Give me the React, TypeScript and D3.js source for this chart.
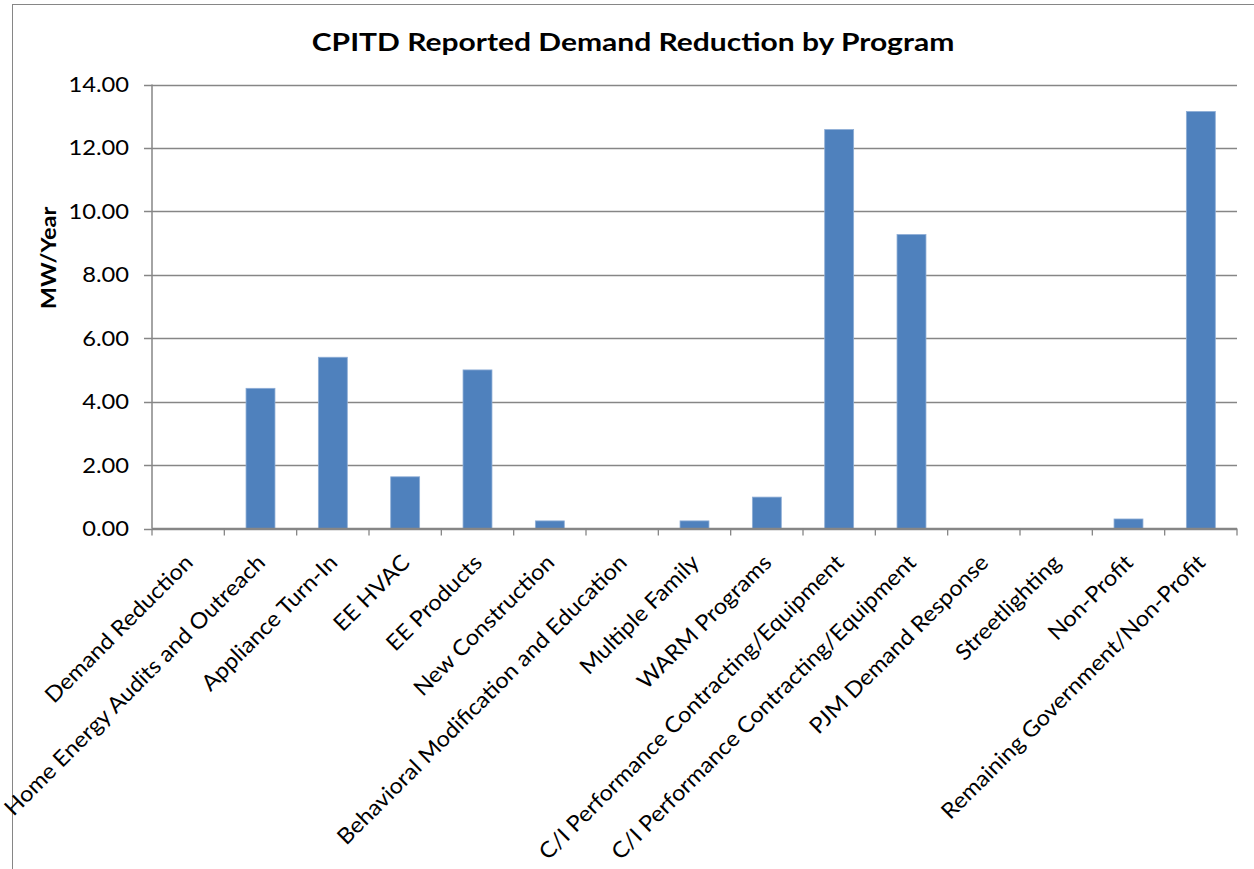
import React, { useEffect, useRef } from "react";
import * as d3 from "d3";

const categories: string[] = [
  "Demand Reduction",
  "Home Energy Audits and Outreach",
  "Appliance Turn-In",
  "EE HVAC",
  "EE Products",
  "New Construction",
  "Behavioral Modification and Education",
  "Multiple Family",
  "WARM Programs",
  "C/I Performance Contracting/Equipment",
  "C/I Performance Contracting/Equipment ",
  "PJM Demand Response",
  "Streetlighting",
  "Non-Profit",
  "Remaining Government/Non-Profit",
];
const values: number[] = [0, 4.42, 5.4, 1.63, 5.0, 0.24, 0, 0.24, 0.99, 12.58, 9.27, 0, 0, 0.3, 13.15];
const yTicks: number[] = [0, 2, 4, 6, 8, 10, 12, 14];
const title = "CPITD Reported Demand Reduction by Program";
const yLabel = "MW/Year";

const W = 1254;
const H = 869;
const FONT = "Lato, 'Open Sans', sans-serif";

export default function App() {
  const ref = useRef<SVGSVGElement>(null);
  useEffect(() => {
    document.body.style.margin = "0";
    const svg = d3.select(ref.current);
    svg.selectAll("*").remove();
    const left = 152, right = 1237, top = 84.5, bottom = 528.5;

    const x = d3.scaleBand<number>().domain(d3.range(categories.length)).range([left, right]).paddingInner(0.6).paddingOuter(0.3);
    const xOuter = d3.scaleLinear().domain([0, categories.length]).range([left, right]);
    const y = d3.scaleLinear().domain([0, 14]).range([bottom, top]);

    svg.append("rect").attr("x", 12.5).attr("y", 4.5).attr("width", 1400).attr("height", 1000)
      .attr("fill", "white").attr("stroke", "#868686").attr("stroke-width", 1);

    svg.append("text").attr("transform", "translate(633,51) scale(1.2,1)").attr("text-anchor", "middle")
      .attr("font-family", FONT).attr("font-weight", "bold").attr("font-size", 25).attr("fill", "#000")
      .text(title);

    // gridlines
    const g = svg.append("g");
    yTicks.forEach((t) => {
      g.append("line").attr("x1", left - 8).attr("x2", right).attr("y1", Math.round(y(t)) + 0.5).attr("y2", Math.round(y(t)) + 0.5)
        .attr("stroke", "#868686").attr("stroke-width", 1.3);
      g.append("text").attr("transform", `translate(129,${y(t) + 7.5}) scale(1.13,1)`).attr("text-anchor", "end")
        .attr("font-family", FONT).attr("font-size", 21).attr("fill", "#000").text(d3.format(".2f")(t));
    });

    // bars
    svg.append("g").selectAll("rect").data(values).join("rect")
      .attr("x", (_, i) => x(i)!)
      .attr("width", x.bandwidth())
      .attr("y", (d) => y(d))
      .attr("height", (d) => bottom - y(d))
      .attr("fill", "#4F81BD")
      .attr("stroke", (d) => (d > 0 ? "#8EADD6" : "none"))
      .attr("stroke-width", 0.8);

    // axes
    svg.append("line").attr("x1", left).attr("x2", left).attr("y1", top).attr("y2", bottom)
      .attr("stroke", "#868686").attr("stroke-width", 1.5);
    svg.append("line").attr("x1", left).attr("x2", right).attr("y1", bottom).attr("y2", bottom)
      .attr("stroke", "#868686").attr("stroke-width", 1.5);
    d3.range(categories.length + 1).forEach((i) => {
      svg.append("line").attr("x1", xOuter(i)).attr("x2", xOuter(i)).attr("y1", bottom).attr("y2", bottom + 7)
        .attr("stroke", "#868686").attr("stroke-width", 1.3);
    });

    // category labels
    categories.forEach((c, i) => {
      const cx = xOuter(i + 0.5) + 6;
      const cy = 564;
      svg.append("text").attr("transform", `translate(${cx},${cy}) rotate(-45) scale(1.07,1)`)
        .attr("text-anchor", "end").attr("font-family", FONT).attr("font-size", 22).attr("fill", "#000")
        .text(c.trim());
    });

    svg.append("text").attr("transform", `translate(56,258) rotate(-90) scale(1.12,1)`).attr("text-anchor", "middle")
      .attr("font-family", FONT).attr("font-weight", "bold").attr("font-size", 21).attr("fill", "#000").text(yLabel);
  }, []);
  return <svg ref={ref} width={W} height={H} style={{ display: "block" }} />;
}
